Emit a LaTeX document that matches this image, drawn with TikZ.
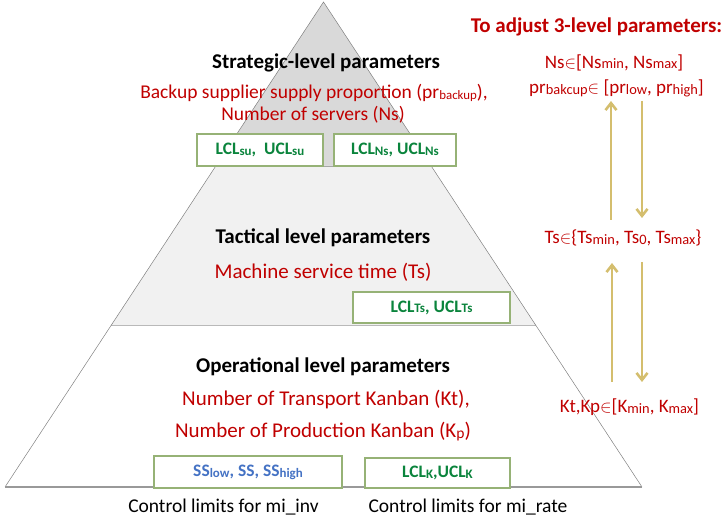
\documentclass[tikz,border=0pt]{standalone}
\usepackage{fontspec}
\setmainfont{Carlito}
\usepackage{relsize}
\usetikzlibrary{arrows.meta}
\definecolor{pred}{RGB}{192,0,0}
\definecolor{pgreen}{RGB}{10,132,60}
\definecolor{pblue}{RGB}{68,114,196}
\definecolor{boxline}{RGB}{150,178,118}
\definecolor{gold}{RGB}{212,190,110}
\definecolor{topfill}{RGB}{217,217,217}
\definecolor{midfill}{RGB}{241,241,241}
\newcommand{\lo}[1]{\raisebox{-0.1ex}{\relscale{0.74}#1}}
\newcommand{\lowr}[1]{\raisebox{-0.1ex}{\relscale{0.8}#1}}
\newcommand{\loo}[1]{\raisebox{-0.05ex}{\relscale{0.66}#1}}
\newcommand{\inn}{$\in$}
\tikzset{
  title/.style={font=\fontsize{21}{24}\selectfont\bfseries, text=black, inner sep=0pt},
  redtxt/.style={font=\fontsize{21}{24}\selectfont, text=pred, inner sep=0pt},
  stratred/.style={font=\fontsize{19.5}{22}\selectfont, text=pred, inner sep=0pt},
  righttxt/.style={font=\fontsize{19}{22}\selectfont, text=pred, inner sep=0pt},
  limbox/.style={draw=boxline, line width=1.6pt, fill=white, inner sep=0pt, font=\fontsize{17.5}{20}\selectfont\bfseries},
  caption/.style={font=\fontsize{19.5}{22}\selectfont, text=black, inner sep=0pt},
  goldarrow/.style={draw=gold, line width=2.6pt, -{Straight Barb[length=7pt,width=11pt,line width=2.6pt]}},
}
\begin{document}
\begin{tikzpicture}[x=1pt,y=-1pt]
\useasboundingbox (0,0) rectangle (724,518);
% pyramid
\coordinate (apex) at (323.5,2);
\coordinate (bl) at (5,487);
\coordinate (br) at (642,487);
\coordinate (t1l) at (215.8,166);
\coordinate (t1r) at (431.2,166);
\coordinate (t2l) at (110.7,326);
\coordinate (t2r) at (536.3,326);
\fill[topfill] (apex) -- (t1r) -- (t1l) -- cycle;
\fill[midfill] (t1l) -- (t1r) -- (t2r) -- (t2l) -- cycle;
\draw[gray!70, line width=0.8pt] (t1l) -- (t1r);
\draw[gray!55, line width=1pt] (t2l) -- (t2r);
\draw[gray, line width=0.5pt] (bl) -- (apex) -- (br);
\draw[gray!80, line width=1.6pt] (bl) -- (br);
% strategic
\node[title] (strat) at (326,63) {Strategic-level parameters};
\node[stratred] (strat1) at (314,93) {Backup supplier supply proportion (pr\loo{backup}),};
\node[stratred] (strat2) at (313,115) {Number of servers (Ns)};
\node[limbox, minimum width=126pt, minimum height=32pt, text=pgreen] (bsu) at (260,150) {LCL\lo{su},\ \ UCL\lo{su}};
\node[limbox, minimum width=122pt, minimum height=32pt, text=pgreen] (bns) at (395,150) {LCL\lo{Ns}, UCL\lo{Ns}};
% tactical
\node[title] (tact) at (323,238) {Tactical level parameters};
\node[redtxt] (tact1) at (323,272) {Machine service time (Ts)};
\node[limbox, minimum width=157pt, minimum height=31pt, text=pgreen] (bts) at (431.5,307.5) {LCL\lo{Ts}, UCL\lo{Ts}};
% operational
\node[title] (oper) at (323,367) {Operational level parameters};
\node[redtxt] (oper1) at (326,400) {Number of Transport Kanban (Kt),};
\node[redtxt] (oper2) at (323,432) {Number of Production Kanban (K\lo{p})};
\node[limbox, minimum width=188pt, minimum height=32pt, text=pblue] (bss) at (248,472) {SS\lo{low}, SS, SS\lo{high}};
\node[limbox, minimum width=145pt, minimum height=30pt, text=pgreen] (bk) at (437.5,473) {LCL\lo{K},UCL\lo{K}};
\node[caption] (cap1) at (223.5,507) {Control limits for mi\_inv};
\node[caption] (cap2) at (468,507) {Control limits for mi\_rate};
% right side
\node[title, text=pred] (adj) at (596.5,27) {To adjust 3-level parameters:};
\node[righttxt] (ns) at (614,62.5) {Ns\inn[Ns\lowr{min}, Ns\lowr{max}]};
\node[righttxt] (pr) at (616.5,88) {pr\lowr{bakcup}\inn\ [pr\lowr{low}, pr\lowr{high}]};
\node[righttxt] (ts) at (623,238) {Ts\inn\{Ts\lowr{min}, Ts\lowr{0}, Ts\lowr{max}\}};
\node[righttxt] (kk) at (629.5,407) {Kt,Kp\inn[K\lowr{min}, K\lowr{max}]};
\coordinate (u1s) at (611,220);
\coordinate (u1e) at (611,101);
\coordinate (d1s) at (642,101);
\coordinate (d1e) at (642,218);
\coordinate (u2s) at (612,382);
\coordinate (u2e) at (612,263);
\coordinate (d2s) at (642,262);
\coordinate (d2e) at (642,382);
\draw[goldarrow] (u1s) -- (u1e);
\draw[goldarrow] (d1s) -- (d1e);
\draw[goldarrow] (u2s) -- (u2e);
\draw[goldarrow] (d2s) -- (d2e);
\end{tikzpicture}
\end{document}
